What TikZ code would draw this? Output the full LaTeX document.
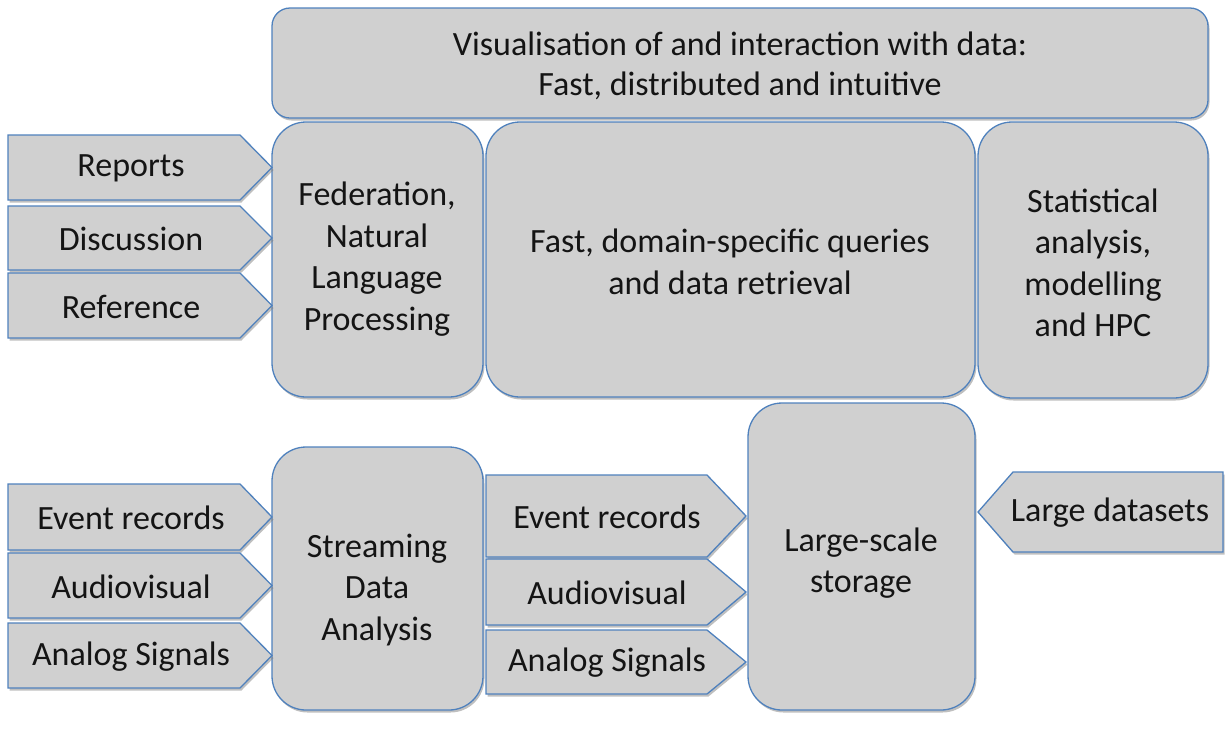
\documentclass[tikz,border=0pt]{standalone}
\usepackage{fontspec}
\setmainfont{Carlito}
\usetikzlibrary{shadows}
\definecolor{boxfill}{RGB}{208,208,208}
\definecolor{boxline}{RGB}{79,129,189}
\definecolor{txt}{RGB}{20,20,20}
\tikzset{
  boxst/.style={fill=boxfill, draw=boxline, line width=1.3pt,
    drop shadow={opacity=0.5, shadow xshift=1.5pt, shadow yshift=-2.5pt}},
  lbl/.style={text=txt, align=center, inner sep=0pt,
    font=\fontsize{34}{41.5}\selectfont},
}
\newcommand\rarrow[7]{%
  \draw[boxst] (#2,#3) -- (#4,#3) -- (#5,{(#3+#6)/2}) -- (#4,#6) -- (#2,#6) -- cycle;
  \node[lbl] (#1) at ({(#2+#5)/2-9},{(#3+#6)/2+1}) {#7};}
\begin{document}
\begin{tikzpicture}[x=1pt,y=-1pt]
\useasboundingbox (0,0) rectangle (1225,729);
% top bar
\draw[boxst, rounded corners=18pt] (272,8) rectangle (1208,118);
\node[lbl, font=\fontsize{34}{40}\selectfont] (vis) at (740,66) {Visualisation of and interaction with data:\\Fast, distributed and intuitive};
% upper row boxes
\draw[boxst, rounded corners=34pt] (272,122) rectangle (483,397);
\node[lbl] (fed) at (377,259) {Federation,\\Natural\\Language\\Processing};
\draw[boxst, rounded corners=34pt] (486,122) rectangle (975,397);
\node[lbl] (fast) at (730,262) {Fast, domain-specific queries\\and data retrieval};
\draw[boxst, rounded corners=34pt] (978,122) rectangle (1208,398);
\node[lbl] (stat) at (1093,263) {Statistical\\analysis,\\modelling\\and HPC};
% upper left arrows
\rarrow{rep}{8}{135}{240}{272}{200}{Reports}
\rarrow{disc}{8}{206}{240}{272}{270}{Discussion}
\rarrow{ref}{8}{273}{240}{272}{338}{Reference}
% lower boxes
\draw[boxst, rounded corners=34pt] (272,447) rectangle (483,710);
\node[lbl] (stream) at (377,590) {Streaming\\Data\\Analysis};
\draw[boxst, rounded corners=34pt] (748,403) rectangle (975,710);
\node[lbl] (store) at (861,563) {Large-scale\\storage};
% lower left arrows
\rarrow{ev1}{8}{484}{240}{272}{550}{Event records}
\rarrow{av1}{8}{553}{240}{272}{618}{Audiovisual}
\rarrow{an1}{8}{623}{240}{272}{688}{Analog Signals}
% middle arrows
\rarrow{ev2}{486}{475}{707}{746}{557}{Event records}
\rarrow{av2}{486}{559}{707}{746}{625}{Audiovisual}
\rarrow{an2}{486}{630}{707}{746}{694}{Analog Signals}
% large datasets (pointing left)
\draw[boxst] (1223,472) -- (1013,472) -- (978,512) -- (1013,552) -- (1223,552) -- cycle;
\node[lbl] (ld) at (1110,513) {Large datasets};
\end{tikzpicture}
\end{document}
